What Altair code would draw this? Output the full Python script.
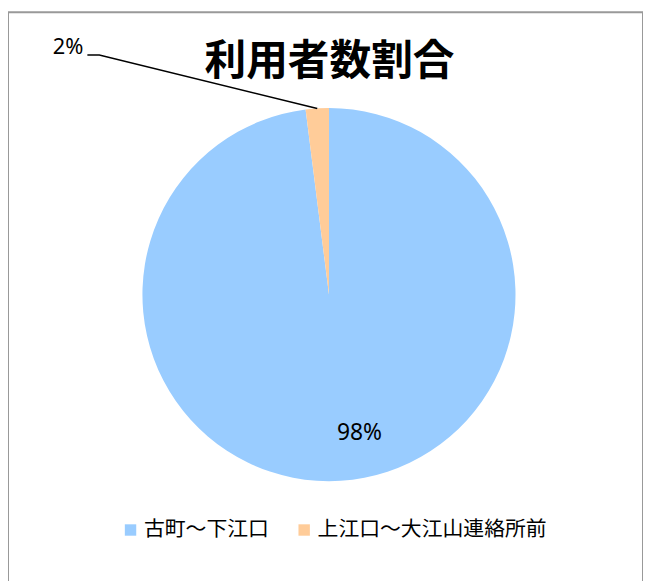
import math
import altair as alt
import pandas as pd

categories = ["古町～下江口", "上江口～大江山連絡所前"]
values = [98, 2]
inner_labels = ["98%", ""]
outer_label = "2%"
colors = ["#99CCFF", "#FFCC99"]
title_text = "利用者数割合"

W, H = 640, 600
CX, CY, R = 323.5, 284.5, 188
FONT = "Noto Sans CJK JP"

df = pd.DataFrame({"区間": categories, "値": values, "内ラベル": inner_labels, "順": [0, 1]})

# leader line for the small slice, anchored at its mid angle on the rim
total = sum(values)
mid = (values[0] + values[1] / 2) / total * 2 * math.pi
ax = CX + R * math.sin(mid)
ay = CY - R * math.cos(mid)
leader = pd.DataFrame({"px": [ax, 92, 80], "py": [ay, 43, 43], "k": [0, 1, 2]})
outer = pd.DataFrame({"px": [76], "py": [35], "t": [outer_label]})
title_df = pd.DataFrame({"t": [title_text]})

base = alt.Chart(df).encode(
    theta=alt.Theta("値:Q", stack=True),
    order=alt.Order("順:Q"),
)

pie = base.mark_arc(outerRadius=R, stroke=None).encode(
    x=alt.value(CX),
    y=alt.value(CY),
    color=alt.Color(
        "区間:N",
        scale=alt.Scale(domain=categories, range=colors),
        sort=categories,
        legend=alt.Legend(
            title=None,
            orient="none",
            direction="horizontal",
            legendX=113,
            legendY=511,
            symbolType="square",
            symbolSize=132,
            symbolStrokeWidth=0,
            labelFont=FONT,
            labelFontSize=21,
            labelColor="#000000",
            labelOffset=3,
            columnPadding=25,
            labelLimit=400,
        ),
    ),
)

inner = base.mark_text(
    radius=140, dx=22, font="Noto Sans", fontSize=23, color="#000000"
).encode(x=alt.value(CX), y=alt.value(CY), text="内ラベル:N")

line = alt.Chart(leader).mark_line(color="#000000", strokeWidth=1.5).encode(
    x=alt.X("px:Q", scale=None, axis=None),
    y=alt.Y("py:Q", scale=None, axis=None),
    order="k:Q",
)

outer_txt = alt.Chart(outer).mark_text(
    align="right", baseline="middle", font="Noto Sans", fontSize=22, color="#000000"
).encode(
    x=alt.X("px:Q", scale=None, axis=None),
    y=alt.Y("py:Q", scale=None, axis=None),
    text="t:N",
)

title = alt.Chart(title_df).mark_text(
    font=FONT, fontSize=42, fontWeight="bold", color="#000000", baseline="middle"
).encode(x=alt.value(324), y=alt.value(50), text="t:N")

chart = (
    alt.layer(pie, inner, line, outer_txt, title)
    .properties(width=W, height=H, padding={"left": 0, "top": 2, "right": 0, "bottom": 0})
    .configure_view(stroke="#999999", strokeWidth=2)
)

chart.save("out.html", embed_options={"renderer": "svg", "actions": False})
